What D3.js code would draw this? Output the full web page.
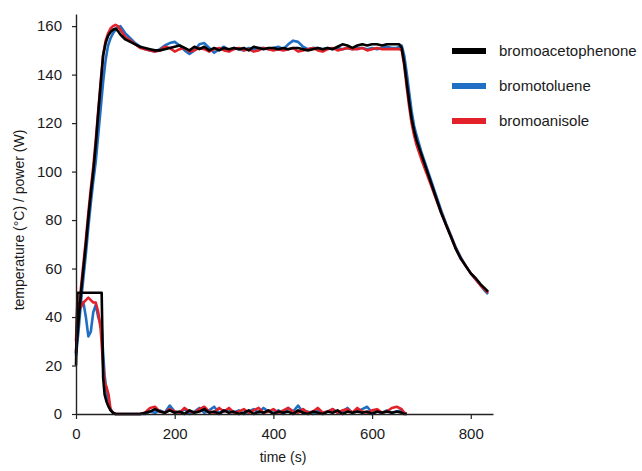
<!DOCTYPE html>
<html>
<head>
<meta charset="utf-8">
<script src="https://cdn.jsdelivr.net/npm/d3@7"></script>
<style>
  body { margin: 0; background: #fff; }
  text { font-family: "Liberation Sans", Arial, sans-serif; fill: #1a1a1a; }
</style>
</head>
<body>
<script>
// series names, legend order
var seriesNames = ["bromoacetophenone", "bromotoluene", "bromoanisole"];
var seriesColors = ["#000000", "#1f6fc4", "#e3212b"];

// temperature sample times (s)
var tempTime = [0,5,10,15,20,25,30,35,40,45,50,55,60,65,70,75,80,85,90,95,100,
  110,120,130,140,150,160,170,180,190,200,210,220,230,240,250,260,270,280,290,300,
  310,320,330,340,350,360,370,380,390,400,410,420,430,440,450,460,470,480,490,500,
  510,520,530,540,550,560,570,580,590,600,610,620,630,640,650,
  655,660,665,670,675,680,685,690,700,710,720,730,740,750,760,770,780,790,800,810,820,830,835];

var tempAceto = [25,38,50,60,70,81,91,100,111,124,136,148,153,156,157.5,158.5,159,158,156.5,155.5,154.5,
  153.5,152.5,151.5,151,150.5,150,150,150.5,151,151.5,152,151,150,151.5,150.5,151.5,150,151,150,151,
  150.5,151,150.5,151,150,151.5,151,150.5,151,151,150.5,151,150.5,151,151,150.5,150,150.5,151,150.5,
  151,150.5,151.5,152.5,152,151,152,152.5,152,152.5,152.5,152,152.5,152.5,152.5,
  152.5,151,145,137,129,122,117,113,107,101,95,89,83,78,73,68,64,61,58,56,53.5,51.5,50.5];

var tempToluene = [24,34,46,56,66,77,87,96,104,115,126,137,146,152,155,157,158.5,159.5,160,158.5,157,
  155,153,151.5,150.5,150,149.5,150.5,152,153,153.5,152,150,148.5,150,152.5,153,151,149,150.5,151.5,
  150,151,150.5,150,151,150.5,151,151,150.5,151,151.5,150.5,152.5,154,153.5,151.5,150.5,151,151,150.5,
  151,150.5,151,150.5,151,150.5,151,151,150.5,151,150.5,151,151.5,151,151,
  151.5,152,148,141,133,125,119,115,108,102,96,90,84,78.5,73.5,68.5,64.5,61,58,55.5,53,50.5,49.5];

var tempAnisole = [26,40,52,62,72,83,93,102,113,125,137,148,154,157,159,160,160.5,160,158.5,157,155.5,
  154,152.5,151,150.5,150,149.5,150,151.5,151,149.5,150.5,151,149.5,150,151,150.5,149.5,150.5,151,150,
  149.5,150.5,151,150,150.5,149.5,150,151,150.5,150,150.5,150,150.5,151,149.5,150,150.5,151,150,149.5,
  150.5,151,150,150.5,151,150.5,150.5,151,150,150.5,151,150.5,150.5,150.5,150.5,
  150.5,150,144,135,127,120,115,111,105,99.5,94,88.5,83,78,73,68,64,61,58,55.5,53,51,50];

// power sample times (s)
var powerTime = [0,3,5,10,15,20,25,30,35,40,45,50,52,55,58,62,66,70,75,80,
  90,100,110,120,130,140,150,160,170,180,190,200,210,220,230,240,250,260,270,280,
  290,300,310,320,330,340,350,360,370,380,390,400,410,420,430,440,450,460,470,480,
  490,500,510,520,530,540,550,560,570,580,590,600,610,620,630,640,650,660,665,670];

var powerAceto = [20,50,50,50,50,50,50,50,50,50,50,50,50,15,8,5,3,1.5,0.5,0,
  0,0,0,0,0,0.5,1,2,1,0.5,1.5,0.5,1,0,1.5,0.5,1,2,0.5,1,
  0,1.5,0.5,1,0,0.5,1.5,0,1,0.5,1.5,0,1,0.5,1,0,1.5,0.5,0,1,
  0.5,0,1,0.5,1.5,0,1,0.5,1,0.5,1,0,1,0.5,1,0.5,1,0.5,0,0];

var powerToluene = [25,40,45.5,46,46,40,32,34,42,45,40,37,36,25,16,9,4,2,0.5,0,
  0,0,0,0,0,0,1,0.5,1.5,0.5,3.5,1,0.5,2,0,1,2.5,0.5,1.5,3,
  0.5,1,2,0.5,1.5,0,1,2,0.5,2.5,1,0.5,1.5,0,2.5,1,3.5,0.5,1,0,
  1.5,0.5,1,2,0.5,1,2.5,0.5,1,2,3,0.5,1,0.5,1.5,0.5,1,1.5,0.5,0];

var powerAnisole = [30,46,45,44,46,47,48,47,46,46,42,35,29,19.5,13,11,8,2,0.5,0,
  0,0,0,0,0,0.5,2.5,3,1,0.5,2,1,0.5,2.5,1,0.5,2,3,1,0.5,
  2.5,1,2.5,0.5,1,2,0.5,1.5,2.5,0.5,1,2,0.5,1.5,2.5,1,0.5,2,0.5,1,
  2.5,0.5,1,2,0.5,1.5,2,0.5,2.5,1,0.5,1.5,2,0.5,1,2.5,3,2,0.5,0];

var xTicks = [0, 200, 400, 600, 800];
var yTicks = [0, 20, 40, 60, 80, 100, 120, 140, 160];

var width = 642, height = 471;

var svg = d3.select("body").append("svg")
    .attr("width", width)
    .attr("height", height);

var x = d3.scaleLinear().domain([0, 845]).range([76, 493]);
var y = d3.scaleLinear().domain([0, 165]).range([414, 14]);

function pairs(t, v) {
    var n = Math.min(t.length, v.length);
    var out = [];
    for (var i = 0; i < n; i++) out.push([t[i], v[i]]);
    return out;
}

var line = d3.line()
    .x(function (d) { return x(d[0]); })
    .y(function (d) { return y(d[1]); });

var temps = [tempAceto, tempToluene, tempAnisole];
var powers = [powerAceto, powerToluene, powerAnisole];

// draw blue, red, then black on top
var drawOrder = [1, 2, 0];
var plot = svg.append("g");
drawOrder.forEach(function (k) {
    plot.append("path")
        .datum(pairs(powerTime, powers[k]))
        .attr("d", line)
        .attr("fill", "none")
        .attr("stroke", seriesColors[k])
        .attr("stroke-width", 2.6)
        .attr("stroke-linejoin", "round");
    plot.append("path")
        .datum(pairs(tempTime, temps[k]))
        .attr("d", line)
        .attr("fill", "none")
        .attr("stroke", seriesColors[k])
        .attr("stroke-width", 2.6)
        .attr("stroke-linejoin", "round");
});

// axes
var xAxis = svg.append("g")
    .attr("transform", "translate(0,414)")
    .call(d3.axisBottom(x).tickValues(xTicks).tickSize(5).tickSizeOuter(0).tickPadding(9));
var yAxis = svg.append("g")
    .attr("transform", "translate(76,0)")
    .call(d3.axisLeft(y).tickValues(yTicks).tickSize(4).tickSizeOuter(0).tickPadding(10));

[xAxis, yAxis].forEach(function (a) {
    a.select(".domain").attr("stroke", "#222").attr("stroke-width", 1.4);
    a.selectAll(".tick line").attr("stroke", "#222").attr("stroke-width", 1.2);
    a.selectAll(".tick text")
        .style("font-size", "15px")
        .style("font-family", "'Liberation Sans', Arial, sans-serif")
        .attr("fill", "#1a1a1a");
});

svg.append("text")
    .attr("x", 283)
    .attr("y", 462)
    .attr("text-anchor", "middle")
    .style("font-size", "14px")
    .text("time (s)");

svg.append("text")
    .attr("transform", "translate(24,220) rotate(-90)")
    .attr("text-anchor", "middle")
    .style("font-size", "14px")
    .text("temperature (°C) / power (W)");

// legend
var legend = svg.append("g");
seriesNames.forEach(function (name, i) {
    var ly = 51 + i * 35;
    legend.append("line")
        .attr("x1", 452).attr("x2", 486)
        .attr("y1", ly).attr("y2", ly)
        .attr("stroke", seriesColors[i])
        .attr("stroke-width", 6);
    legend.append("text")
        .attr("x", 499)
        .attr("y", ly + 5)
        .style("font-size", "15px")
        .text(name);
});
</script>
</body>
</html>
